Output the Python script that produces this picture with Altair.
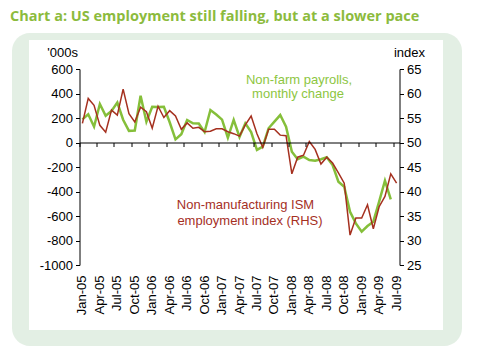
import altair as alt
import pandas as pd

months = [
    "Jan-05","Feb-05","Mar-05","Apr-05","May-05","Jun-05","Jul-05","Aug-05","Sep-05","Oct-05","Nov-05","Dec-05",
    "Jan-06","Feb-06","Mar-06","Apr-06","May-06","Jun-06","Jul-06","Aug-06","Sep-06","Oct-06","Nov-06","Dec-06",
    "Jan-07","Feb-07","Mar-07","Apr-07","May-07","Jun-07","Jul-07","Aug-07","Sep-07","Oct-07","Nov-07","Dec-07",
    "Jan-08","Feb-08","Mar-08","Apr-08","May-08","Jun-08","Jul-08","Aug-08","Sep-08","Oct-08","Nov-08","Dec-08",
    "Jan-09","Feb-09","Mar-09","Apr-09","May-09","Jun-09","Jul-09",
]
tick_labels = ["Jan-05","Apr-05","Jul-05","Oct-05","Jan-06","Apr-06","Jul-06","Oct-06","Jan-07","Apr-07",
               "Jul-07","Oct-07","Jan-08","Apr-08","Jul-08","Oct-08","Jan-09","Apr-09","Jul-09"]

# Non-farm payrolls, monthly change ('000s), Jan-05 .. Jun-09
payrolls = [189, 230, 129, 314, 218, 258, 326, 186, 95, 98, 381, 170,
            292, 290, 292, 165, 26, 68, 184, 157, 155, 85, 265, 228,
            187, 40, 184, 45, 157, 85, -60, -34, 116, 170, 224, 129,
            -75, -137, -116, -143, -149, -137, -121, -184, -320, -361, -565, -660,
            -728, -682, -646, -483, -312, -464]

# Non-manufacturing ISM employment index, Jan-05 .. Jul-09
ism = [53.9, 59.0, 57.6, 53.5, 52.1, 56.6, 55.6, 60.9, 55.9, 54.2, 57.2, 56.3,
       52.9, 57.4, 55.1, 56.5, 55.4, 52.7, 54.0, 52.9, 53.1, 52.2, 52.3, 52.8,
       52.8, 52.2, 51.8, 51.3, 53.6, 55.4, 51.8, 49.0, 52.7, 52.7, 51.5, 51.4,
       43.6, 47.0, 47.4, 50.2, 48.6, 45.6, 47.0, 45.8, 43.8, 41.7, 31.1, 34.6,
       34.6, 37.3, 32.4, 36.9, 39.0, 43.6, 41.7]

left_ticks = [-1000, -800, -600, -400, -200, 0, 200, 400, 600]
right_ticks = [25, 30, 35, 40, 45, 50, 55, 60, 65]

title_text = "Chart a: US employment still falling, but at a slower pace"

W, H = 320, 196
PL, PT = 79.5, 69
FONT = "Liberation Sans"
GREEN = "#85BF3A"
RED = "#A5301F"

df_pay = pd.DataFrame({"month": months[:len(payrolls)], "payrolls": payrolls})
df_ism = pd.DataFrame({"month": months, "ism": ism})
one = pd.DataFrame({"a": [0]})

xscale = alt.Scale(type="band", domain=months, paddingInner=0, paddingOuter=0)

panel = alt.Chart(one).mark_rect(cornerRadius=18, color="#E3EFE4").encode(
    x=alt.value(12 - PL), x2=alt.value(462 - PL), y=alt.value(33 - PT), y2=alt.value(346 - PT))
inner = alt.Chart(one).mark_rect(color="white").encode(
    x=alt.value(29 - PL), x2=alt.value(443 - PL), y=alt.value(40 - PT), y2=alt.value(330 - PT))

green = alt.Chart(df_pay).mark_line(color=GREEN, strokeWidth=2.5).encode(
    x=alt.X("month:O", scale=xscale, bandPosition=0.5,
            axis=alt.Axis(orient="bottom", values=tick_labels, labelAngle=-90, ticks=False, domain=False,
                          labelPadding=10, labelFont=FONT, labelFontSize=13, labelColor="black",
                          labelOverlap=False, title=None, grid=False, zindex=1)),
    y=alt.Y("payrolls:Q", scale=alt.Scale(domain=[-1000, 600], nice=False, zero=False),
            axis=alt.Axis(orient="left", values=left_ticks, tickSize=4, labelPadding=3, tickColor="black",
                          domainColor="black", labelFont=FONT, labelFontSize=13, labelColor="black",
                          labelExpr="'' + datum.value",
                          labelFlush=False, title=None, grid=False, zindex=1)),
)

red = alt.Chart(df_ism).mark_line(color=RED, strokeWidth=1.5).encode(
    x=alt.X("month:O", scale=xscale, bandPosition=0.5,
            axis=alt.Axis(orient="bottom", offset=-(H * 1000 / 1600), values=tick_labels,
                          bandPosition=0, labels=False, ticks=True, tickSize=4, tickColor="black",
                          domain=True, domainColor="black", title=None, grid=False, zindex=1)),
    y=alt.Y("ism:Q", scale=alt.Scale(domain=[25, 65], nice=False, zero=False),
            axis=alt.Axis(orient="right", values=right_ticks, tickSize=4, labelPadding=3, tickColor="black",
                          domainColor="black", labelFont=FONT, labelFontSize=13, labelColor="black",
                          labelFlush=False, title=None, grid=False, zindex=1)),
)

def txt(s, x, y, color, size=13, align="center", weight="normal", font=FONT):
    return alt.Chart(pd.DataFrame({"t": [s]})).mark_text(
        align=align, baseline="alphabetic", font=font, fontSize=size, color=color, fontWeight=weight
    ).encode(x=alt.value(x - PL), y=alt.value(y - PT), text="t:N")

texts = [
    txt(title_text, 10, 21, "#8CBB3D", size=14.5, align="left", weight="bold", font="Open Sans"),
    txt("'000s", 78, 57, "black", align="right"),
    txt("index", 425, 57, "black", align="right"),
    txt("Non-farm payrolls,", 299, 83.5, "#8DC63F"),
    txt("monthly change", 298, 97.5, "#8DC63F"),
    txt("Non-manufacturing ISM", 245.5, 208.5, RED),
    txt("employment index (RHS)", 250, 224.5, RED),
]

chart = alt.layer(panel, inner, green, red, *texts).resolve_scale(y="independent").resolve_axis(
    x="independent", y="independent"
).properties(
    width=W, height=H, autosize="none",
    padding={"left": PL, "top": PT, "right": 479 - PL - W, "bottom": 348 - PT - H},
    background="white",
).configure_view(stroke=None)

chart.save("out.html", embed_options={"renderer": "svg", "actions": False})
